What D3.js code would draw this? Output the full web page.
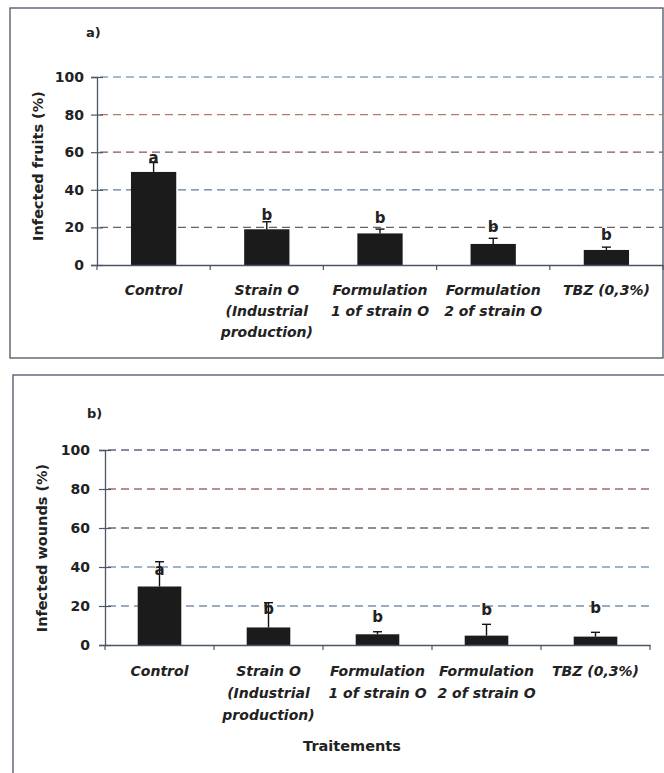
<!DOCTYPE html>
<html><head><meta charset="utf-8">
<script src="https://cdn.jsdelivr.net/npm/d3@7"></script>
<style>
html,body{margin:0;padding:0;background:#fff;}
svg{display:block;}
text{font-family:"DejaVu Sans",Arial,sans-serif;font-weight:bold;fill:#222;}
</style></head>
<body>
<svg id="chart" width="664" height="773"></svg>
<script>
// ---- data ----
const categories = [
  ["Control"],
  ["Strain O", "(Industrial", "production)"],
  ["Formulation", "1 of strain O"],
  ["Formulation", "2 of strain O"],
  ["TBZ (0,3%)"]
];
const yTicks = [0, 20, 40, 60, 80, 100];

const fruitsMean = [49.5, 19, 16.8, 11.2, 8];
const fruitsErr = [5, 4, 2.3, 3, 1.5];
const fruitsLetters = ["a", "b", "b", "b", "b"];
const fruitsLetterY = [57, 26.5, 25, 20, 16];

const woundsMean = [30, 9, 5.5, 4.8, 4.3];
const woundsErr = [12.7, 12.7, 1.3, 5.8, 2.2];
const woundsLetters = ["a", "b", "b", "b", "b"];
const woundsLetterY = [38.5, 18.5, 14.5, 18, 19];

const panelA = {tag: "a)", yTitle: "Infected fruits (%)", mean: fruitsMean, err: fruitsErr,
  letters: fruitsLetters, letterY: fruitsLetterY};
const panelB = {tag: "b)", yTitle: "Infected wounds (%)", mean: woundsMean, err: woundsErr,
  letters: woundsLetters, letterY: woundsLetterY};

// ---- layout ----
const svg = d3.select("#chart");

function drawPanel(p, L) {
  const g = svg.append("g");
  g.append("rect").attr("x", L.box[0]).attr("y", L.box[1]).attr("width", L.box[2]).attr("height", L.box[3])
    .attr("fill", "none").attr("stroke", "#4a5565").attr("stroke-width", 1.3);

  const x = d3.scaleBand().domain(d3.range(categories.length)).range([L.x0, L.x1])
    .paddingInner(0.6).paddingOuter(0.3);
  const y = d3.scaleLinear().domain([0, 100]).range([L.y0, L.y100]);
  const step = x.step();

  g.selectAll("line.grid").data(yTicks.filter(t => t > 0)).join("line")
    .attr("x1", L.x0 + 3).attr("x2", L.x1).attr("y1", d => y(d)).attr("y2", d => y(d))
    .attr("stroke", (d, i) => L.gridColors[i]).attr("stroke-width", 1.3)
    .attr("stroke-dasharray", "8,5");

  const yAxis = d3.axisLeft(y).tickValues(yTicks).tickSize(6).tickPadding(7);
  const ya = g.append("g").attr("transform", `translate(${L.x0},0)`).call(yAxis);
  ya.select(".domain").attr("stroke", "#4a5565").attr("stroke-width", 1.3);
  ya.selectAll(".tick line").attr("stroke", "#4a5565").attr("x2", 6).attr("x1", -6).attr("stroke-width", 1.2);
  ya.selectAll(".tick text").attr("font-size", 14).attr("font-weight", "bold")
    .attr("font-family", "DejaVu Sans").attr("fill", "#222").attr("x", -L.labGap);

  g.selectAll("rect.bar").data(p.mean).join("rect")
    .attr("x", (d, i) => x(i)).attr("width", x.bandwidth())
    .attr("y", d => y(d)).attr("height", d => y(0) - y(d))
    .attr("fill", "#1b1b1b");

  const eg = g.append("g").attr("stroke", "#111").attr("stroke-width", 1.4);
  p.mean.forEach((m, i) => {
    const cx = x(i) + x.bandwidth() / 2;
    eg.append("line").attr("x1", cx).attr("x2", cx).attr("y1", y(m)).attr("y2", y(m + p.err[i]));
    eg.append("line").attr("x1", cx - 4.5).attr("x2", cx + 4.5).attr("y1", y(m + p.err[i])).attr("y2", y(m + p.err[i]));
  });

  const xAxis = d3.axisBottom(x).tickValues([]).tickSizeOuter(0);
  const xa = g.append("g").attr("transform", `translate(0,${L.y0})`).call(xAxis);
  xa.select(".domain").attr("stroke", "#4a5565").attr("stroke-width", 1.3);
  g.selectAll("line.xt").data(d3.range(categories.length + 1)).join("line")
    .attr("x1", i => L.x0 + i * step).attr("x2", i => L.x0 + i * step)
    .attr("y1", L.y0).attr("y2", L.y0 + 5).attr("stroke", "#4a5565").attr("stroke-width", 1.2);

  g.selectAll("text.let").data(p.letters).join("text")
    .attr("x", (d, i) => x(i) + x.bandwidth() / 2).attr("y", (d, i) => y(p.letterY[i]))
    .attr("dominant-baseline", "central").attr("text-anchor", "middle")
    .attr("font-size", 15).attr("fill", "#1a1a1a").text(d => d);

  categories.forEach((lines, i) => {
    lines.forEach((s, j) => {
      g.append("text").attr("x", x(i) + x.bandwidth() / 2).attr("y", L.labY + j * L.lineH)
        .attr("text-anchor", "middle").attr("font-size", 14).attr("font-style", "italic")
        .attr("fill", "#222").text(s);
    });
  });

  g.append("text").attr("transform", `translate(${L.yTitleX},${L.yTitleY}) rotate(-90)`)
    .attr("text-anchor", "middle").attr("dominant-baseline", "central")
    .attr("font-size", 14.5).attr("fill", "#333").text(p.yTitle);

  g.append("text").attr("x", L.tagX).attr("y", L.tagY).attr("font-size", 13).attr("fill", "#222").text(p.tag);
  return {x, y};
}

drawPanel(panelA, {
  box: [10, 8, 653, 350], x0: 97, x1: 663, y0: 265, y100: 77, labGap: 13,
  gridColors: ["#6e5e6c", "#5a7d9c", "#7a5a62", "#b8766c", "#8aa2bc"],
  labY: 295, lineH: 21, yTitleX: 38, yTitleY: 166, tagX: 86, tagY: 37
});
drawPanel(panelB, {
  box: [13, 375, 660, 410], x0: 105, x1: 650, y0: 645, y100: 450, labGap: 15,
  gridColors: ["#7890aa", "#7a9cbc", "#5c6d84", "#a86868", "#5e6585"],
  labY: 676, lineH: 22, yTitleX: 42, yTitleY: 548, tagX: 87, tagY: 418
});

svg.append("text").attr("x", 352).attr("y", 751).attr("text-anchor", "middle")
  .attr("font-size", 14.5).attr("fill", "#222").text("Traitements");
</script>
</body></html>
